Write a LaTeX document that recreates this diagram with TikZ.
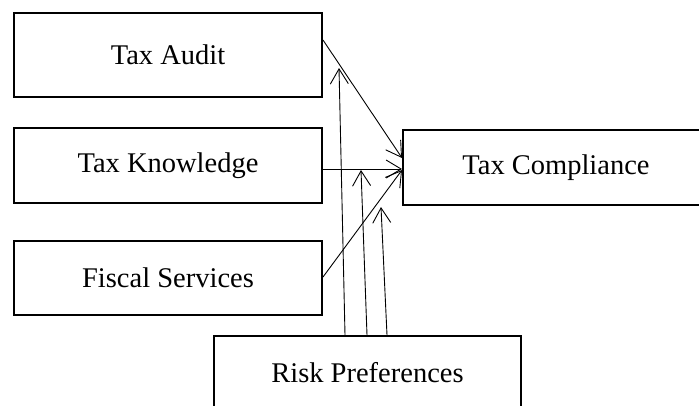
\documentclass[tikz,border=0pt]{standalone}
\usepackage{fontspec}
\setmainfont{Liberation Serif}
\usetikzlibrary{arrows.meta}
\begin{document}
\begin{tikzpicture}[x=1pt,y=-1pt,
  box/.style={draw, line width=2pt, inner sep=0pt, font=\fontsize{28.5}{34}\selectfont},
  link/.style={line width=0.9pt, -{Straight Barb[length=15pt,width=18pt]}}]
\clip (0,0) rectangle (699,405);
\fill[white] (0,0) rectangle (699,405);
\node[box, minimum width=308pt, minimum height=84pt] (audit) at (168,55) {Tax Audit};
\node[box, minimum width=308pt, minimum height=75pt] (know) at (168,165.5) {Tax Knowledge};
\node[box, minimum width=308pt, minimum height=74pt] (fisc) at (168,278) {Fiscal Services};
\node[box, minimum width=306pt, minimum height=75pt] (comp) at (556,167.5) {Tax Compliance};
\node[box, minimum width=307pt, minimum height=74pt] (risk) at (367.5,373) {Risk Preferences};
\coordinate (t1) at (339,68);
\coordinate (t2) at (361,170);
\coordinate (t3) at (381,207);
\draw[link] ([yshift=15pt]audit.east) -- ([yshift=9.5pt]comp.west);
\draw[link] ([yshift=-3.5pt]know.east) -- ([yshift=-1.5pt]comp.west);
\draw[link] ([yshift=1pt]fisc.east) -- ([yshift=-2.5pt]comp.west);
\draw[link] ([xshift=-22.5pt]risk.north) -- (t1);
\draw[link] ([xshift=-0.5pt]risk.north) -- (t2);
\draw[link] ([xshift=19.5pt]risk.north) -- (t3);
\end{tikzpicture}
\end{document}
